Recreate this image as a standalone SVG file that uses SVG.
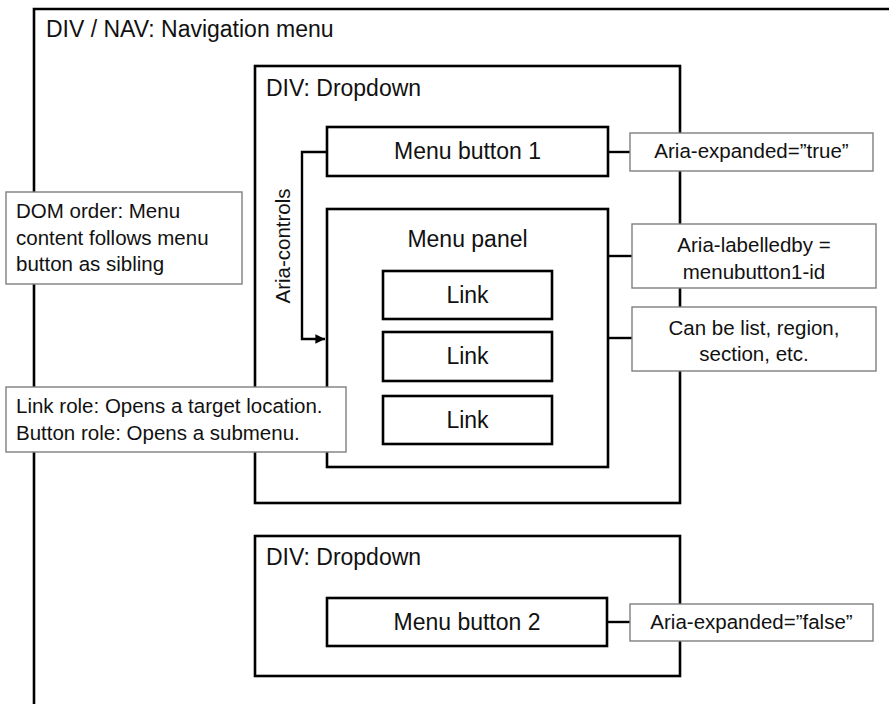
<svg xmlns="http://www.w3.org/2000/svg" width="889" height="704" viewBox="0 0 889 704">
<style>
  .box { fill: #ffffff; stroke: #000000; stroke-width: 2.6; }
  .note { fill: #ffffff; stroke: #7f7f7f; stroke-width: 1.4; }
  .t { font-family: "Liberation Sans", Arial, sans-serif; font-size: 23px; fill: #111111; }
  .n { font-family: "Liberation Sans", Arial, sans-serif; font-size: 20.5px; fill: #111111; }
  .c { text-anchor: middle; }
  .line { fill: none; stroke: #000000; stroke-width: 2.4; }
</style>
<defs>
  <marker id="arrow" viewBox="0 0 10 10" refX="10" refY="5" markerWidth="4" markerHeight="4" markerUnits="strokeWidth" orient="auto">
    <path d="M0,0 L10,5 L0,10 z" fill="#000000"/>
  </marker>
</defs>
<rect width="889" height="704" fill="#ffffff"/>

<g id="nav">
  <path class="box" d="M34,720 V9 H900"/>
  <text class="t" x="46" y="37">DIV / NAV: Navigation menu</text>
</g>

<g id="dropdown1">
  <rect class="box" x="255" y="66" width="425" height="437"/>
  <text class="t" x="266" y="96">DIV: Dropdown</text>
</g>

<g id="dropdown2">
  <rect class="box" x="255" y="536" width="425" height="140"/>
  <text class="t" x="266" y="565">DIV: Dropdown</text>
</g>

<g id="connectors">
  <polyline class="line" points="327,152 302,152 302,339 325,339" marker-end="url(#arrow)"/>
  <line class="line" x1="608" y1="152" x2="630" y2="152"/>
  <line class="line" x1="608" y1="256" x2="632" y2="256"/>
  <line class="line" x1="608" y1="338" x2="632" y2="338"/>
  <line class="line" x1="346" y1="419" x2="382" y2="419"/>
  <line class="line" x1="607" y1="622" x2="630" y2="622"/>
  <text class="n c" transform="translate(290,246) rotate(-90)">Aria-controls</text>
</g>

<g id="menubutton1">
  <rect class="box" x="327" y="127" width="281" height="49"/>
  <text class="t c" x="467.5" y="159">Menu button 1</text>
</g>

<g id="menupanel">
  <rect class="box" x="327" y="209" width="281" height="258"/>
  <text class="t c" x="467.5" y="247">Menu panel</text>
</g>

<g id="link1">
  <rect class="box" x="383" y="271" width="169" height="48"/>
  <text class="t c" x="467.5" y="303">Link</text>
</g>
<g id="link2">
  <rect class="box" x="383" y="332" width="169" height="49"/>
  <text class="t c" x="467.5" y="364">Link</text>
</g>
<g id="link3">
  <rect class="box" x="383" y="396" width="169" height="48"/>
  <text class="t c" x="467.5" y="428">Link</text>
</g>

<g id="menubutton2">
  <rect class="box" x="327" y="598" width="280" height="48"/>
  <text class="t c" x="467" y="630">Menu button 2</text>
</g>

<g id="note-expanded-true">
  <rect class="note" x="630" y="133" width="243" height="38"/>
  <text class="n c" x="751.5" y="158">Aria-expanded=”true”</text>
</g>

<g id="note-labelledby">
  <rect class="note" x="632" y="224" width="244" height="64"/>
  <text class="n c" x="754" y="252">Aria-labelledby =</text>
  <text class="n c" x="754" y="279">menubutton1-id</text>
</g>

<g id="note-list">
  <rect class="note" x="632" y="307" width="244" height="64"/>
  <text class="n c" x="754" y="335">Can be list, region,</text>
  <text class="n c" x="754" y="361">section, etc.</text>
</g>

<g id="note-dom">
  <rect class="note" x="6" y="192" width="236" height="92"/>
  <text class="n" x="16" y="218">DOM order: Menu</text>
  <text class="n" x="16" y="245">content follows menu</text>
  <text class="n" x="16" y="271">button as sibling</text>
</g>

<g id="note-role">
  <rect class="note" x="6" y="387" width="340" height="65"/>
  <text class="n" x="16" y="413">Link role: Opens a target location.</text>
  <text class="n" x="16" y="440">Button role: Opens a submenu.</text>
</g>

<g id="note-expanded-false">
  <rect class="note" x="630" y="604" width="243" height="37"/>
  <text class="n c" x="751.5" y="629">Aria-expanded=”false”</text>
</g>
</svg>
